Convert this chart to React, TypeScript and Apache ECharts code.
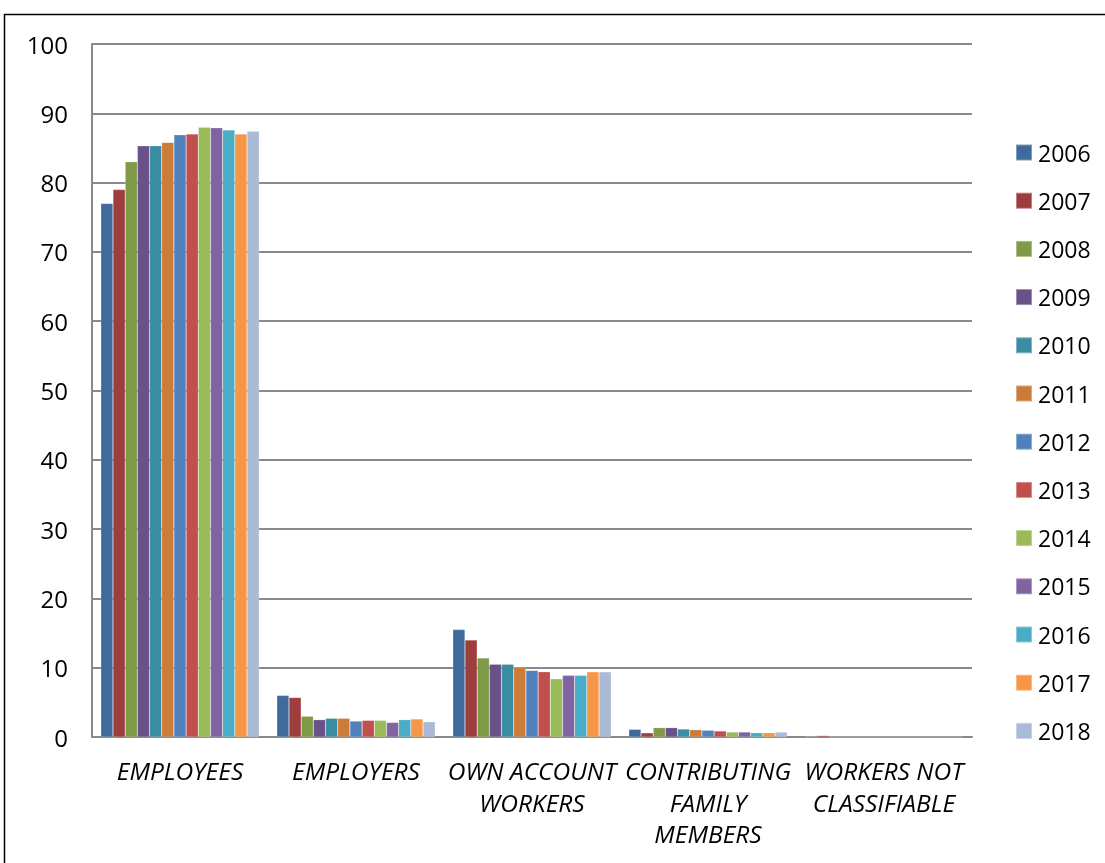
import React, { useEffect, useRef } from "react";
import * as echarts from "echarts";

const categories = [
  "EMPLOYEES",
  "EMPLOYERS",
  "OWN ACCOUNT\nWORKERS",
  "CONTRIBUTING\nFAMILY\nMEMBERS",
  "WORKERS NOT\nCLASSIFIABLE",
];

const years = ["2006", "2007", "2008", "2009", "2010", "2011", "2012", "2013", "2014", "2015", "2016", "2017", "2018"];

const colors = [
  "#3F6A9C", "#9E3D3B", "#7F9A48", "#6A5189", "#3A8DA2", "#CC7B38", "#4F81BD",
  "#C0504D", "#9BBB59", "#8064A2", "#4BACC6", "#F79646", "#AABAD7",
];

// values per year: [employees, employers, own account, contributing family, not classifiable]
const v2006 = [77.0, 6.0, 15.5, 1.1, 0.1];
const v2007 = [79.0, 5.7, 14.0, 0.6, 0.2];
const v2008 = [83.0, 3.0, 11.4, 1.35, 0];
const v2009 = [85.3, 2.5, 10.5, 1.35, 0];
const v2010 = [85.3, 2.7, 10.5, 1.15, 0];
const v2011 = [85.8, 2.7, 10.1, 1.05, 0];
const v2012 = [86.9, 2.3, 9.6, 0.97, 0];
const v2013 = [87.0, 2.4, 9.4, 0.87, 0];
const v2014 = [88.0, 2.4, 8.4, 0.72, 0];
const v2015 = [87.9, 2.1, 8.9, 0.72, 0];
const v2016 = [87.6, 2.5, 8.9, 0.62, 0];
const v2017 = [87.0, 2.6, 9.4, 0.62, 0];
const v2018 = [87.4, 2.2, 9.4, 0.72, 0];

const values = [v2006, v2007, v2008, v2009, v2010, v2011, v2012, v2013, v2014, v2015, v2016, v2017, v2018];

const yTicks = { min: 0, max: 100, interval: 10 };

export default function App() {
  const ref = useRef<HTMLDivElement>(null);
  useEffect(() => {
    if (!ref.current) return;
    const chart = echarts.init(ref.current, null, { renderer: "svg" });
    const font = "'Open Sans', 'Liberation Sans', sans-serif";
    chart.setOption({
      animation: false,
      color: colors,
      graphic: [
        {
          type: "rect",
          shape: { x: 4.5, y: 14.5, width: 1200, height: 1000 },
          style: { fill: "none", stroke: "#000", lineWidth: 1.5 },
          silent: true,
        },
      ],
      grid: { left: 92, top: 44, right: 133, bottom: 126, containLabel: false },
      legend: {
        orient: "vertical",
        left: 1015,
        top: 141,
        padding: 0,
        itemWidth: 16,
        itemHeight: 16,
        itemGap: 25.2,
        icon: "rect",
        data: years,
        textStyle: { fontFamily: font, fontSize: 23, color: "#000", padding: [0, 0, 0, 1] },
      },
      xAxis: {
        type: "category",
        data: categories,
        axisTick: { show: false },
        axisLine: { show: true, lineStyle: { color: "#8a8a8a", width: 2 } },
        axisLabel: {
          interval: 0,
          margin: 18,
          fontFamily: font,
          fontStyle: "italic",
          fontSize: 24.5,
          lineHeight: 31.5,
          color: "#000",
        },
      },
      yAxis: {
        type: "value",
        min: yTicks.min,
        max: yTicks.max,
        interval: yTicks.interval,
        axisLine: { show: true, lineStyle: { color: "#8a8a8a", width: 2 } },
        axisTick: { show: false },
        splitLine: { lineStyle: { color: "#8a8a8a", width: 2 } },
        axisLabel: { margin: 24, fontFamily: font, fontSize: 24, color: "#000" },
      },
      series: years.map((y, i) => ({
        name: y,
        type: "bar",
        data: values[i],
        barGap: "0%",
        barCategoryGap: "10%",
        itemStyle: { color: colors[i], borderColor: "rgba(255,255,255,0.35)", borderWidth: 0.5 },
      })),
    });
    return () => chart.dispose();
  }, []);
  return <div ref={ref} style={{ position: "fixed", left: 0, top: 0, width: 1105, height: 863 }} />;
}
